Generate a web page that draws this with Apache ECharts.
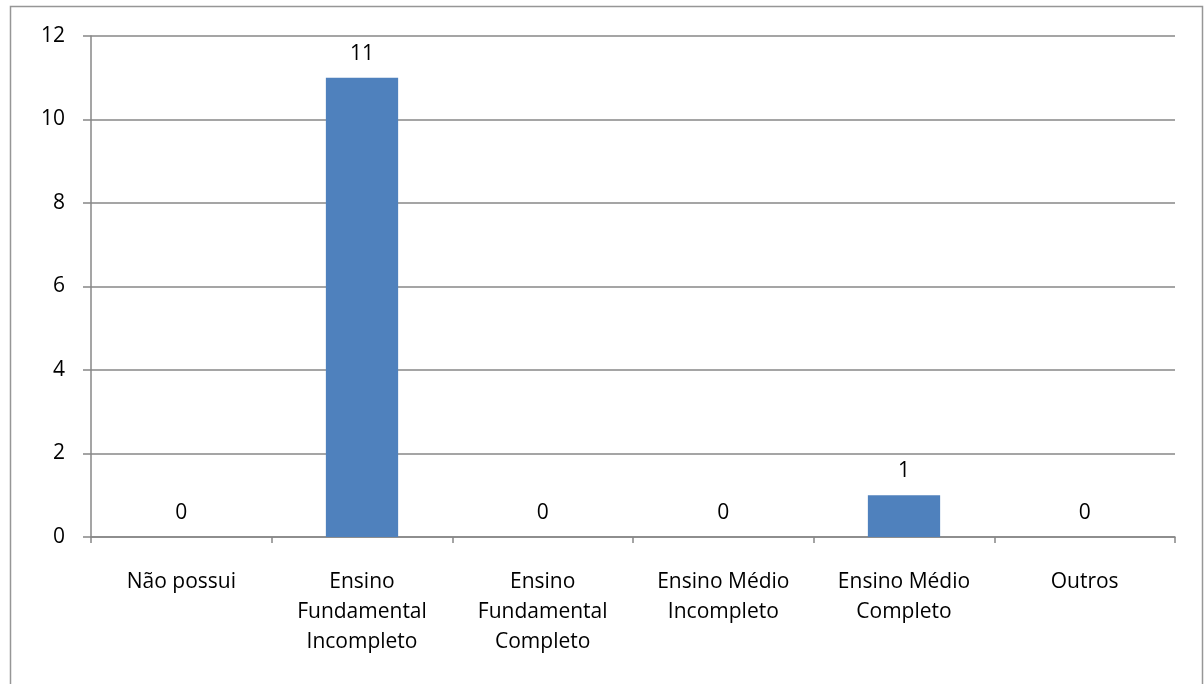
<!DOCTYPE html>
<html>
<head>
<meta charset="utf-8">
<script src="https://cdn.jsdelivr.net/npm/echarts@6/dist/echarts.min.js"></script>
<style>
  html, body { margin: 0; padding: 0; background: #fff; }
  #chart { width: 1204px; height: 684px; }
</style>
</head>
<body>
<div id="chart"></div>
<script>
// Escolaridade: categorias e contagens
const categories = [
  'Não possui',
  'Ensino\nFundamental\nIncompleto',
  'Ensino\nFundamental\nCompleto',
  'Ensino Médio\nIncompleto',
  'Ensino Médio\nCompleto',
  'Outros'
];
const counts = [0, 11, 0, 0, 1, 0];
const yTicks = { min: 0, max: 12, interval: 2 };

const FONT = '"Open Sans", sans-serif';
const chart = echarts.init(document.getElementById('chart'));

chart.setOption({
  backgroundColor: '#ffffff',
  animation: false,
  grid: { left: 91, right: 29, top: 36, bottom: 147 },
  graphic: [{
    type: 'rect',
    shape: { x: 10.5, y: 6.5, width: 1192, height: 700 },
    style: { fill: 'none', stroke: '#969696', lineWidth: 1.5 },
    silent: true
  }],
  xAxis: {
    type: 'category',
    data: categories,
    axisLine: { show: true, lineStyle: { color: '#878787', width: 1.5 } },
    axisTick: { show: true, length: 6, lineStyle: { color: '#878787', width: 1.5 } },
    axisLabel: {
      color: '#000',
      fontFamily: FONT,
      fontSize: 21,
      lineHeight: 30,
      margin: 30,
      interval: 0
    }
  },
  yAxis: {
    type: 'value',
    min: yTicks.min,
    max: yTicks.max,
    interval: yTicks.interval,
    axisLine: { show: true, lineStyle: { color: '#878787', width: 1.5 } },
    axisTick: { show: true, length: 8, lineStyle: { color: '#878787', width: 1.5 } },
    splitLine: { show: true, lineStyle: { color: '#878787', width: 1.5 } },
    axisLabel: {
      color: '#000',
      fontFamily: FONT,
      fontSize: 21,
      margin: 26
    }
  },
  series: [{
    type: 'bar',
    data: counts,
    barWidth: '40%',
    itemStyle: { color: '#4F81BD' },
    label: {
      show: true,
      position: 'top',
      distance: 12,
      lineHeight: 24,
      color: '#000',
      fontFamily: FONT,
      fontSize: 21
    }
  }]
});
</script>
</body>
</html>
